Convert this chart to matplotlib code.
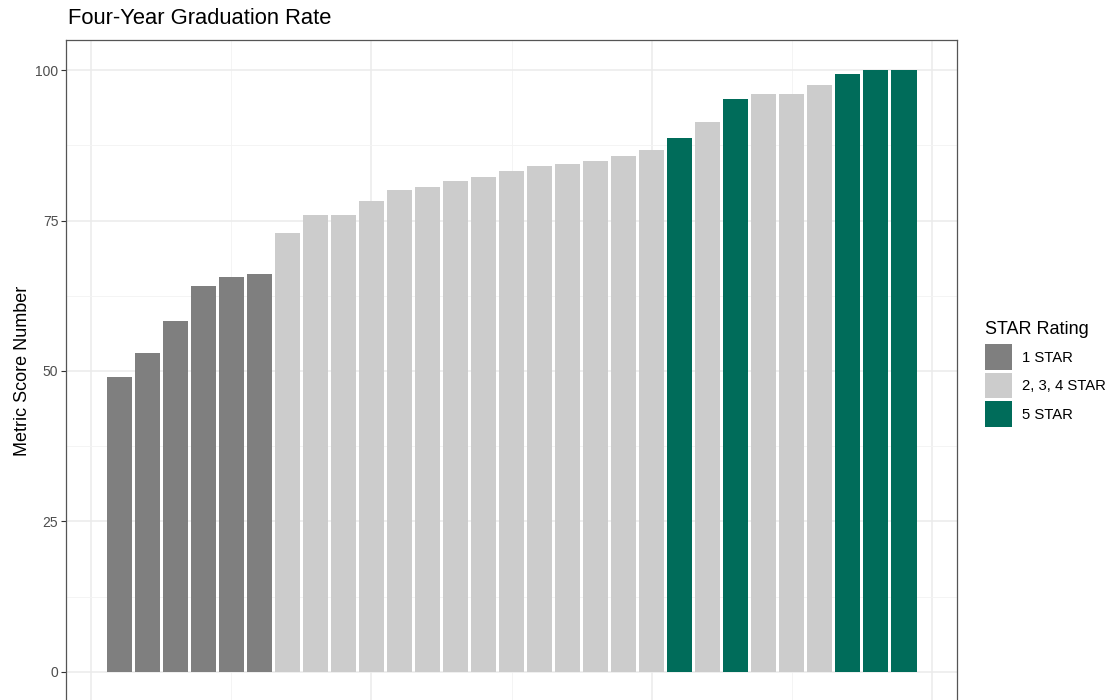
import matplotlib.pyplot as plt
import numpy as np
from matplotlib.patches import Patch

plt.rcParams['font.family'] = ['Liberation Sans', 'DejaVu Sans']

# Data
scores = [49.0, 53.0, 58.3, 64.1, 65.6, 66.1,
          72.9, 75.9, 75.9, 78.3, 80.0, 80.5, 81.5, 82.3, 83.3, 84.1, 84.4, 84.9, 85.7, 86.7,
          88.7, 91.3, 95.2, 96.1, 96.1, 97.5, 99.4, 100.0, 100.0]
ratings = ['1 STAR'] * 6 + ['2, 3, 4 STAR'] * 14 + \
          ['5 STAR', '2, 3, 4 STAR', '5 STAR',
           '2, 3, 4 STAR', '2, 3, 4 STAR', '2, 3, 4 STAR',
           '5 STAR', '5 STAR', '5 STAR']
rating_levels = ['1 STAR', '2, 3, 4 STAR', '5 STAR']
rating_colors = {'1 STAR': '#7F7F7F', '2, 3, 4 STAR': '#CCCCCC', '5 STAR': '#006C5A'}

W, H = 1112, 700
fig = plt.figure(figsize=(W / 100, H / 100), dpi=100)

# panel in pixel coords: left 66, right 957, top 40, bottom 702 (just off image)
ax = fig.add_axes([66 / W, (H - 702) / H, (957 - 66) / W, (702 - 40) / H])

x = np.arange(1, len(scores) + 1)
colors = [rating_colors[r] for r in ratings]
ax.bar(x, scores, width=0.9, color=colors, linewidth=0, zorder=3)

ax.set_xlim(-0.895, 30.895)
ax.set_ylim(-5, 105)

ax.set_yticks([0, 25, 50, 75, 100])
ax.set_yticks([12.5, 37.5, 62.5, 87.5], minor=True)
ax.set_xticks([0, 10, 20, 30])
ax.set_xticks([5, 15, 25], minor=True)
ax.set_xticklabels([])

ax.grid(which='major', color='#EBEBEB', linewidth=1.1, zorder=0)
ax.grid(which='minor', color='#F3F3F3', linewidth=0.6, zorder=0)
ax.set_axisbelow(True)

ax.tick_params(axis='y', which='major', length=3.5, width=0.8, color='#333333',
               labelsize=10, labelcolor='#4D4D4D', pad=2)
ax.tick_params(which='minor', length=0)
ax.tick_params(axis='x', which='major', length=0)

for s in ax.spines.values():
    s.set_color('#555555')
    s.set_linewidth(0.9)

ax.set_ylabel('Metric Score Number', fontsize=13, color='black', labelpad=3)

fig.text(68 / W, 1 - 18 / H, 'Four-Year Graduation Rate', fontsize=15.8,
         ha='left', va='center')

handles = [Patch(facecolor=rating_colors[r], edgecolor='none', label=r) for r in rating_levels]
leg = fig.legend(handles=handles, title='STAR Rating', loc='upper left',
                 bbox_to_anchor=(979 / W, 1 - 315 / H), frameon=False,
                 fontsize=10.7, title_fontsize=13, handlelength=1.8, handleheight=2.27,
                 labelspacing=0.2, handletextpad=0.7, borderaxespad=0)
leg._legend_box.align = 'left'
leg._legend_box.sep = 4.5

fig.savefig('out.png', dpi=100)
